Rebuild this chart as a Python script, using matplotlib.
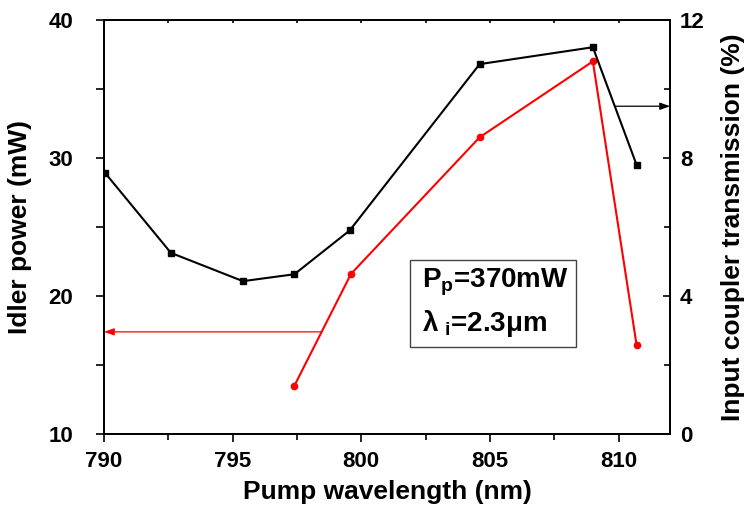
import numpy as np
import matplotlib
matplotlib.use("Agg")
import matplotlib.pyplot as plt
from matplotlib.patches import Rectangle
from matplotlib.ticker import MultipleLocator

plt.rcParams['font.family'] = ['Liberation Sans', 'DejaVu Sans']
plt.rcParams['font.weight'] = 'bold'
plt.rcParams['mathtext.default'] = 'regular'

# transmission of the input coupler (right axis, black squares)
wl_t = [790.05, 792.6, 795.4, 797.4, 799.55, 804.6, 809.0, 810.7]
trans = [7.56, 5.25, 4.43, 4.63, 5.9, 10.72, 11.21, 7.8]

# idler power (left axis, red circles)
wl_p = [797.4, 799.6, 804.6, 809.0, 810.7]
power = [13.5, 21.6, 31.5, 37.0, 16.45]

fig = plt.figure(figsize=(7.52, 5.11), dpi=100)
ax = fig.add_axes([0.1383, 0.1507, 0.7527, 0.8102])
ax2 = ax.twinx()

ax.plot(wl_p, power, '-o', color='red', lw=1.5, ms=4.5, mec='red')
ax2.plot(wl_t, trans, '-s', color='black', lw=1.5, ms=4)

ax.set_xlim(790, 812)
ax.set_ylim(10, 40)
ax2.set_ylim(0, 12)

ax.xaxis.set_major_locator(MultipleLocator(5))
ax.xaxis.set_minor_locator(MultipleLocator(2.5))
ax.yaxis.set_major_locator(MultipleLocator(10))
ax.yaxis.set_minor_locator(MultipleLocator(5))
ax2.yaxis.set_major_locator(MultipleLocator(4))
ax2.yaxis.set_minor_locator(MultipleLocator(2))

for a in (ax, ax2):
    for s in a.spines.values():
        s.set_linewidth(1.3)

ax.tick_params(axis='x', which='major', direction='out', length=6, width=1.2,
               labelsize=16, pad=6, top=True)
ax.tick_params(axis='x', which='minor', direction='out', length=4, width=1.2, top=True)
ax.tick_params(axis='y', which='both', direction='out', length=6, width=1.2,
               labelsize=16, pad=16, right=False)
ax2.tick_params(axis='y', which='major', direction='in', length=5, width=1.2,
                labelsize=16, pad=7)
ax2.tick_params(axis='y', which='minor', direction='in', length=4, width=1.2)
# top ticks: short, pointing inward
ax.tick_params(axis='x', which='both', top=True, labeltop=False)
for t in ax.xaxis.get_major_ticks() + ax.xaxis.get_minor_ticks():
    t.tick2line.set_markersize(2)
    t.tick2line.set_marker(3)

ax.set_xlabel('Pump wavelength (nm)', fontsize=19, fontweight='bold', labelpad=6)
ax.set_ylabel('Idler power (mW)', fontsize=19, fontweight='bold', labelpad=12)
ax2.set_ylabel('Input coupler transmission (%)', fontsize=19, fontweight='bold', labelpad=12)

# arrows pointing to the matching axes
red_y = 17.4
red_x = np.interp(red_y, power[:2], wl_p[:2])
ax.annotate('', xy=(790, red_y), xytext=(red_x, red_y),
            arrowprops=dict(arrowstyle='-|>,head_length=0.5,head_width=0.18',
                            mutation_scale=12, color='red', lw=0.9,
                            shrinkA=0, shrinkB=0))
blk_y = 9.5
blk_x = np.interp(blk_y, trans[-1:-3:-1], wl_t[-1:-3:-1])
ax2.annotate('', xy=(812, blk_y), xytext=(blk_x, blk_y),
             arrowprops=dict(arrowstyle='-|>,head_length=0.5,head_width=0.18',
                             mutation_scale=12, color='black', lw=0.9,
                             shrinkA=0, shrinkB=0))

# parameter box
ax2.add_patch(Rectangle((0.5406, 0.210), 0.2933, 0.210, transform=ax2.transAxes,
                        fill=False, edgecolor='#444444', lw=1.0))
ax2.text(0.561, 0.3534, 'P$_p$=370mW', transform=ax2.transAxes, fontsize=20,
         fontweight='bold', va='baseline', ha='left')
ax2.text(0.561, 0.2488, 'λ$_{\\ i}$=2.3μm', transform=ax2.transAxes, fontsize=20,
         fontweight='bold', va='baseline', ha='left')

fig.savefig('out.png', dpi=100)
